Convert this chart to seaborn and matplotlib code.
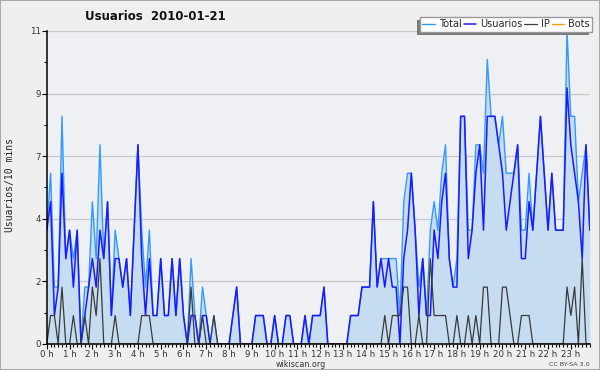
import numpy as np
import pandas as pd
import matplotlib
matplotlib.use("Agg")
import matplotlib.pyplot as plt
from matplotlib.patches import Rectangle
from matplotlib.ticker import MultipleLocator
import seaborn as sns

# valores cada 10 minutos, 0:00 -> 23:50
total = [4, 6, 2, 2, 8, 3, 4, 3, 4, 0, 2, 2, 5, 3, 7, 3, 5, 1, 4, 3, 2, 3, 1, 4,
         7, 4, 2, 4, 1, 1, 3, 1, 1, 3, 1, 3, 1, 0, 3, 1, 0, 2, 1, 0, 1, 0, 0, 0,
         0, 1, 2, 0, 0, 0, 0, 1, 1, 1, 0, 0, 1, 0, 0, 1, 1, 0, 0, 0, 1, 0, 1, 1,
         1, 2, 0, 0, 0, 0, 0, 0, 1, 1, 1, 2, 2, 2, 5, 2, 3, 3, 3, 3, 3, 1, 5, 6,
         6, 4, 2, 3, 1, 4, 5, 4, 6, 7, 3, 2, 3, 8, 8, 4, 4, 7, 7, 6, 10, 8, 8, 7,
         8, 6, 6, 6, 7, 4, 4, 6, 4, 6, 8, 6, 4, 6, 4, 4, 4, 11, 8, 8, 5, 6, 7, 4]
usuarios = [4, 5, 1, 2, 6, 3, 4, 2, 4, 0, 1, 2, 3, 2, 4, 3, 5, 1, 3, 3, 2, 3, 1, 4,
            7, 3, 1, 3, 1, 1, 3, 1, 1, 3, 1, 3, 1, 0, 1, 1, 0, 1, 1, 0, 0, 0, 0, 0,
            0, 1, 2, 0, 0, 0, 0, 1, 1, 1, 0, 0, 1, 0, 0, 1, 1, 0, 0, 0, 1, 0, 1, 1,
            1, 2, 0, 0, 0, 0, 0, 0, 1, 1, 1, 2, 2, 2, 5, 2, 3, 2, 3, 2, 2, 0, 3, 4,
            6, 4, 1, 3, 1, 1, 4, 3, 5, 6, 3, 2, 2, 8, 8, 3, 4, 6, 7, 4, 8, 8, 8, 7,
            6, 4, 5, 6, 7, 3, 3, 5, 4, 6, 8, 6, 4, 6, 4, 4, 4, 9, 7, 6, 5, 3, 7, 4]
ip = [0, 1, 1, 0, 2, 0, 0, 1, 0, 0, 1, 0, 2, 1, 3, 0, 0, 0, 1, 0, 0, 0, 0, 0,
      0, 1, 1, 1, 0, 0, 0, 0, 0, 0, 0, 0, 0, 0, 2, 0, 0, 1, 0, 0, 1, 0, 0, 0,
      0, 0, 0, 0, 0, 0, 0, 0, 0, 0, 0, 0, 0, 0, 0, 0, 0, 0, 0, 0, 0, 0, 0, 0,
      0, 0, 0, 0, 0, 0, 0, 0, 0, 0, 0, 0, 0, 0, 0, 0, 0, 1, 0, 1, 1, 1, 2, 2,
      0, 0, 1, 0, 0, 3, 1, 1, 1, 1, 0, 0, 1, 0, 0, 1, 0, 1, 0, 2, 2, 0, 0, 0,
      2, 2, 1, 0, 0, 1, 1, 1, 0, 0, 0, 0, 0, 0, 0, 0, 0, 2, 1, 2, 0, 3, 0, 0]
bots = [0, 0, 0, 0, 0, 0, 0, 0, 0, 0, 0, 0, 0, 0, 0, 0, 0, 0, 0, 0, 0, 0, 0, 0,
        0, 0, 0, 0, 0, 0, 0, 0, 0, 0, 0, 0, 0, 0, 0, 0, 0, 0, 0, 0, 0, 0, 0, 0,
        0, 0, 0, 0, 0, 0, 0, 0, 0, 0, 0, 0, 0, 0, 0, 0, 0, 0, 0, 0, 0, 0, 0, 0,
        0, 0, 0, 0, 0, 0, 0, 0, 0, 0, 0, 0, 0, 0, 0, 0, 0, 0, 0, 0, 0, 0, 0, 0,
        0, 0, 0, 0, 0, 0, 0, 0, 0, 0, 0, 0, 0, 0, 0, 0, 0, 0, 0, 0, 0, 0, 0, 0,
        0, 0, 0, 0, 0, 0, 0, 0, 0, 0, 0, 0, 0, 0, 0, 0, 0, 0, 0, 0, 0, 0, 0, 0]

hour_labels = [f"{h} h" for h in range(24)]
y_ticks = [0, 2.2, 4.4, 6.6, 8.8, 11]
y_labels = ["0", "2", "4", "7", "9", "11"]

df = pd.DataFrame({"hora": np.arange(len(total)) / 6,
                   "Total": total, "Usuarios": usuarios, "IP": ip, "Bots": bots})

sns.set_theme(style="ticks")
plt.rcParams['font.family'] = ['DejaVu Sans']

fig = plt.figure(figsize=(6, 3.7), dpi=100, facecolor="#efefef")
ax = fig.add_axes([0.078, 0.0703, 0.905, 0.846])
ax.set_facecolor("#eef0f3")

ax.fill_between(df["hora"], df["Total"], color="#c6dcf0", lw=0, zorder=1)
sns.lineplot(data=df, x="hora", y="Total", color="#3399ff", lw=1, ax=ax, label="Total")
sns.lineplot(data=df, x="hora", y="Usuarios", color="#1a1aff", lw=1.1, ax=ax, label="Usuarios")
sns.lineplot(data=df, x="hora", y="IP", color="#3a3a3a", lw=0.9, ax=ax, label="IP")
sns.lineplot(data=df, x="hora", y="Bots", color="#ff9900", lw=1, ax=ax, label="Bots")

ax.set_xlim(0, df["hora"].iloc[-1])
ax.set_ylim(0, 11)
ax.set_xticks(range(24))
ax.set_xticklabels(hour_labels)
ax.xaxis.set_minor_locator(MultipleLocator(1 / 6))
ax.set_yticks(y_ticks)
ax.set_yticklabels(y_labels)
ax.yaxis.set_minor_locator(MultipleLocator(1.1))
ax.tick_params(which="major", length=3.5, width=0.8, color="black",
               labelsize=6.2, labelcolor="#333333", pad=0.5)
ax.tick_params(which="minor", length=2.5, width=0.8, color="black")
ax.grid(axis="y", which="major", color="#c8c8c8", lw=0.9)
ax.set_axisbelow(True)
for s in ["top", "right"]:
    ax.spines[s].set_visible(False)
for s in ["left", "bottom"]:
    ax.spines[s].set_color("black")
    ax.spines[s].set_linewidth(1.1)
ax.set_xlabel("")
ax.set_ylabel("")

fig.text(0.142, 0.956, "Usuarios  2010-01-21", fontsize=8.5, weight="bold",
         ha="left", va="center", color="#111111")
fig.text(0.017, 0.5, "Usuarios/10 mins", rotation=90, va="center", ha="center",
         family="DejaVu Sans Mono", fontsize=7, color="#222222")
fig.text(0.502, 0.014, "wikiscan.org", ha="center", va="center", fontsize=5.8, color="#333333")
fig.text(0.983, 0.014, "CC BY-SA 3.0", ha="right", va="center", fontsize=4.6, color="#444444")

leg = ax.legend(loc="upper right", bbox_to_anchor=(0.987, 0.954),
                bbox_transform=fig.transFigure, ncol=4, fontsize=7,
                frameon=True, fancybox=False, framealpha=1, edgecolor="#999999",
                handlelength=1.3, handletextpad=0.4, columnspacing=0.2,
                borderpad=0.25, borderaxespad=0)
leg.get_frame().set_linewidth(1)
leg.set_zorder(10)

fig.canvas.draw()
bb = leg.get_frame().get_window_extent(fig.canvas.get_renderer())
shadow = Rectangle((bb.x0 - 3, bb.y0 - 3), bb.width, bb.height, transform=None,
                   facecolor="#7a7a7a", edgecolor="none", zorder=9.9, clip_on=False)
ax.add_artist(shadow)

fig.add_artist(Rectangle((0, 0), 1, 1, transform=fig.transFigure, fill=False,
                         edgecolor="#aaaaaa", lw=1.5))

fig.savefig("out.png", dpi=100, facecolor=fig.get_facecolor())
